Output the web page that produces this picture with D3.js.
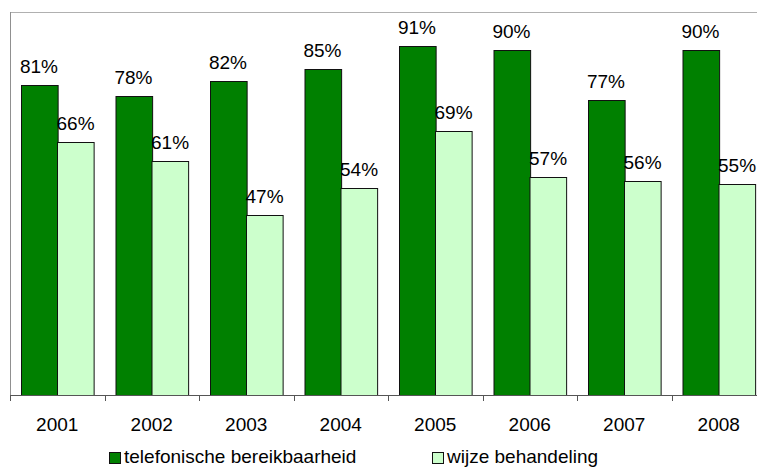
<!DOCTYPE html>
<html>
<head>
<meta charset="utf-8">
<script src="https://cdn.jsdelivr.net/npm/d3@7"></script>
<style>
  body { margin: 0; background: #fff; }
  svg { display: block; font-family: "Liberation Sans", Arial, sans-serif; }
</style>
</head>
<body>
<div id="chart"></div>
<script>
const years = ["2001", "2002", "2003", "2004", "2005", "2006", "2007", "2008"];
const series = ["telefonische bereikbaarheid", "wijze behandeling"];
const telefonisch = [81, 78, 82, 85, 91, 90, 77, 90];
const behandeling = [66, 61, 47, 54, 69, 57, 56, 55];

const colors = { "telefonische bereikbaarheid": "#008000", "wijze behandeling": "#ccffcc" };

const width = 757, height = 468;
const plotLeft = 10, plotTop = 12, plotBottom = 395;
const step = 94.5;

const svg = d3.select("#chart")
    .append("svg")
    .attr("width", width)
    .attr("height", height);

const x = d3.scaleBand()
    .domain(years)
    .range([plotLeft, plotLeft + step * years.length]);

const xs = d3.scaleBand()
    .domain(series)
    .range([0, x.bandwidth()])
    .paddingOuter(0.29);

const y = d3.scaleLinear()
    .domain([0, 100])
    .range([plotBottom, plotTop]);

// plot frame (top and left, light gray)
svg.append("line")
    .attr("x1", plotLeft).attr("x2", width)
    .attr("y1", plotTop + 0.5).attr("y2", plotTop + 0.5)
    .attr("stroke", "#b0b0b0");
svg.append("line")
    .attr("x1", plotLeft + 0.5).attr("x2", plotLeft + 0.5)
    .attr("y1", plotTop).attr("y2", plotBottom)
    .attr("stroke", "#909090");

const rows = years.map((yr, i) => ({
    year: yr,
    values: [
        { key: series[0], v: telefonisch[i] },
        { key: series[1], v: behandeling[i] }
    ]
}));

const groups = svg.selectAll("g.year")
    .data(rows)
    .enter()
    .append("g")
    .attr("class", "year")
    .attr("transform", d => `translate(${x(d.year)},0)`);

groups.selectAll("rect")
    .data(d => d.values)
    .enter()
    .append("rect")
    .attr("x", d => Math.round(xs(d.key)) + 0.5)
    .attr("y", d => Math.round(y(d.v)) + 0.5)
    .attr("width", xs.bandwidth())
    .attr("height", d => plotBottom - Math.round(y(d.v)))
    .attr("fill", d => colors[d.key])
    .attr("stroke", "#111")
    .attr("stroke-width", 1);

groups.selectAll("text")
    .data(d => d.values)
    .enter()
    .append("text")
    .attr("x", d => xs(d.key) + xs.bandwidth() / 2)
    .attr("y", d => y(d.v) - 12)
    .attr("text-anchor", "middle")
    .attr("font-size", 19)
    .attr("fill", "#000")
    .text(d => d.v + "%");

// x axis
const xAxis = d3.axisBottom(x).tickSize(0).tickFormat(d => d);
const ax = svg.append("g")
    .attr("transform", `translate(0,${plotBottom})`)
    .call(xAxis);
ax.select(".domain").remove();
ax.selectAll("text")
    .attr("font-size", 19)
    .attr("font-family", "Liberation Sans, Arial, sans-serif")
    .attr("fill", "#000")
    .attr("dy", 0)
    .attr("y", 36);

svg.append("line")
    .attr("x1", plotLeft).attr("x2", width)
    .attr("y1", plotBottom + 0.5).attr("y2", plotBottom + 0.5)
    .attr("stroke", "#555");

// tick marks between categories
svg.selectAll("line.tick-mark")
    .data(d3.range(years.length + 1))
    .enter()
    .append("line")
    .attr("class", "tick-mark")
    .attr("x1", i => Math.round(plotLeft + i * step) + 0.5)
    .attr("x2", i => Math.round(plotLeft + i * step) + 0.5)
    .attr("y1", plotBottom)
    .attr("y2", plotBottom + 6)
    .attr("stroke", "#555");

// legend
const legendX = [109, 432];
const legend = svg.selectAll("g.legend")
    .data(series)
    .enter()
    .append("g")
    .attr("class", "legend")
    .attr("transform", (d, i) => `translate(${legendX[i]},452)`);

legend.append("rect")
    .attr("x", 0.5).attr("y", 0.5)
    .attr("width", 11).attr("height", 11)
    .attr("fill", d => colors[d])
    .attr("stroke", "#111");

legend.append("text")
    .attr("x", 15)
    .attr("y", 11)
    .attr("font-size", 19)
    .attr("fill", "#000")
    .text(d => d);
</script>
</body>
</html>
